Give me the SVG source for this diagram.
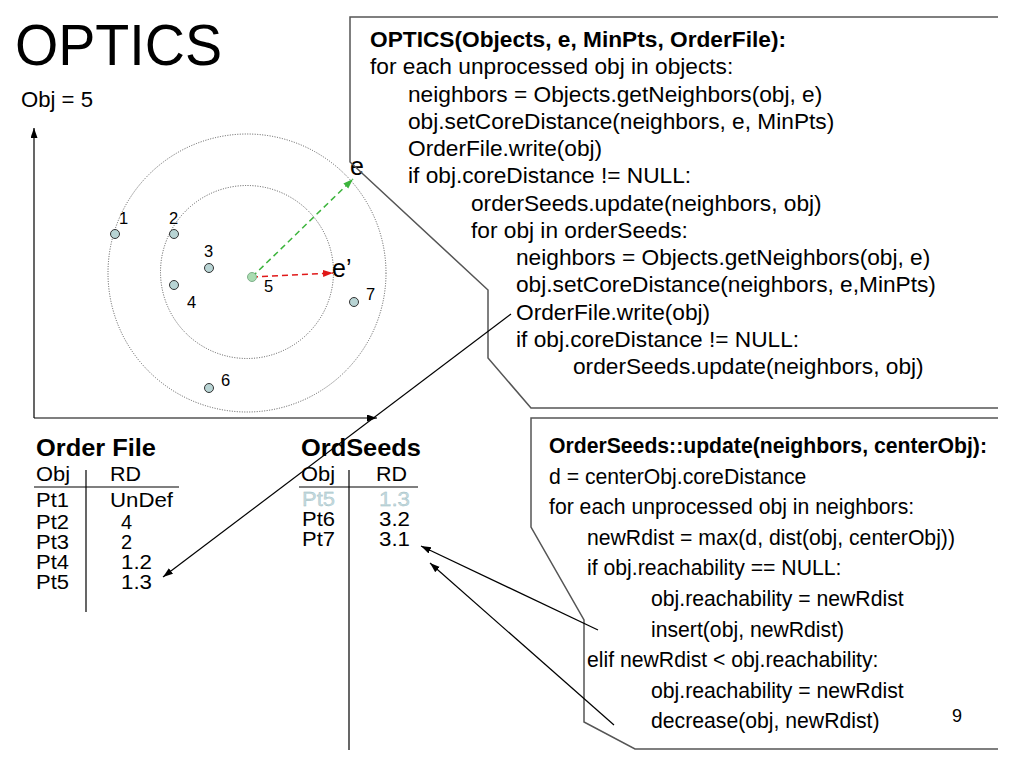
<svg xmlns="http://www.w3.org/2000/svg" width="1024" height="768" viewBox="0 0 1024 768">
<defs>
<style>
text{font-family:"Liberation Sans",Arial,sans-serif;fill:#000}
.code{font-size:22.7px}
.code2{font-size:21.2px}
.b{font-weight:bold}
.tbl{font-size:20px}
.hdr{font-size:23px;font-weight:bold}
.lbl{font-size:16.5px}
.box{fill:none;stroke:#555;stroke-width:1.5}
.ring{fill:none;stroke:#555;stroke-width:1;stroke-dasharray:1 1.5}
.pt{fill:#b8d4d4;stroke:#333;stroke-width:1}
.con{fill:none;stroke:#000;stroke-width:1.2}
.rule{stroke:#000;stroke-width:1.2}
.faded{fill:#c4dade;stroke:#98b8be;stroke-width:0.3}
</style>
<marker id="ah" markerWidth="11" markerHeight="8" refX="10" refY="3.5" orient="auto" markerUnits="userSpaceOnUse"><path d="M0,0 L10,3.5 L0,7 z" fill="#000"/></marker>
<marker id="ahg" markerWidth="11" markerHeight="8" refX="10" refY="3.5" orient="auto" markerUnits="userSpaceOnUse"><path d="M0,0 L10,3.5 L0,7 z" fill="#3cb43c"/></marker>
<marker id="ahr" markerWidth="11" markerHeight="8" refX="10" refY="3.5" orient="auto" markerUnits="userSpaceOnUse"><path d="M0,0 L10,3.5 L0,7 z" fill="#e01818"/></marker>
</defs>
<rect width="1024" height="768" fill="#fff"/>

<g id="title">
<text x="15" y="65" font-size="58" textLength="207" lengthAdjust="spacingAndGlyphs">OPTICS</text>
<text x="21" y="107" font-size="22" textLength="72" lengthAdjust="spacingAndGlyphs">Obj = 5</text>
</g>

<g id="plot">
<line class="con" x1="34" y1="418" x2="34" y2="128" marker-end="url(#ah)"/>
<line class="con" x1="34" y1="418" x2="377" y2="418" marker-end="url(#ah)"/>
<circle class="ring" cx="247" cy="273" r="139"/>
<circle class="ring" cx="247" cy="272" r="86.5"/>
<line x1="252" y1="277" x2="353" y2="179" stroke="#3cb43c" stroke-width="1.5" stroke-dasharray="6 4" marker-end="url(#ahg)"/>
<line x1="252" y1="277" x2="333" y2="273" stroke="#e01818" stroke-width="1.5" stroke-dasharray="6 4" marker-end="url(#ahr)"/>
<g id="p1"><circle class="pt" cx="115" cy="234" r="4.5"/><text class="lbl" x="119" y="224">1</text></g>
<g id="p2"><circle class="pt" cx="174" cy="234" r="4.5"/><text class="lbl" x="169" y="224">2</text></g>
<g id="p3"><circle class="pt" cx="209" cy="268" r="4.5"/><text class="lbl" x="204" y="257">3</text></g>
<g id="p4"><circle class="pt" cx="174" cy="285" r="4.5"/><text class="lbl" x="187" y="308">4</text></g>
<g id="p5"><circle cx="252" cy="277" r="4.5" fill="#a9dcb1" stroke="#7fb08a" stroke-width="1"/><text class="lbl" x="264" y="292">5</text></g>
<g id="p6"><circle class="pt" cx="209" cy="388" r="4.5"/><text class="lbl" x="221" y="386">6</text></g>
<g id="p7"><circle class="pt" cx="354" cy="302" r="4.5"/><text class="lbl" x="366" y="300">7</text></g>
<text x="350" y="175" font-size="25">e</text>
<text x="332" y="277" font-size="25">e’</text>
</g>

<g id="optics-box">
<path class="box" d="M998,17 H350 V162 L488,290 V358 L531,408 H998"/>
<text class="code b" x="370" y="47">OPTICS(Objects, e, MinPts, OrderFile):</text>
<text class="code" x="370" y="74.3">for each unprocessed obj in objects:</text>
<text class="code" x="408" y="101.5">neighbors = Objects.getNeighbors(obj, e)</text>
<text class="code" x="408" y="128.8">obj.setCoreDistance(neighbors, e, MinPts)</text>
<text class="code" x="408" y="156">OrderFile.write(obj)</text>
<text class="code" x="408" y="183.3">if obj.coreDistance != NULL:</text>
<text class="code" x="471" y="210.5">orderSeeds.update(neighbors, obj)</text>
<text class="code" x="471" y="237.8">for obj in orderSeeds:</text>
<text class="code" x="516" y="265">neighbors = Objects.getNeighbors(obj, e)</text>
<text class="code" x="516" y="292.3">obj.setCoreDistance(neighbors, e,MinPts)</text>
<text class="code" x="516" y="319.5">OrderFile.write(obj)</text>
<text class="code" x="516" y="346.8">if obj.coreDistance != NULL:</text>
<text class="code" x="573" y="374">orderSeeds.update(neighbors, obj)</text>
</g>

<g id="update-box">
<path class="box" d="M998,418 H531 V527 L584,620 V722 L635,749 H998"/>
<text class="code2 b" x="549" y="453">OrderSeeds::update(neighbors, centerObj):</text>
<text class="code2" x="549" y="483.6">d = centerObj.coreDistance</text>
<text class="code2" x="549" y="514.2">for each unprocessed obj in neighbors:</text>
<text class="code2" x="587" y="544.8">newRdist = max(d, dist(obj, centerObj))</text>
<text class="code2" x="587" y="575.4">if obj.reachability == NULL:</text>
<text class="code2" x="651" y="606">obj.reachability = newRdist</text>
<text class="code2" x="651" y="636.6">insert(obj, newRdist)</text>
<text class="code2" x="587" y="667.2">elif newRdist &lt; obj.reachability:</text>
<text class="code2" x="651" y="697.8">obj.reachability = newRdist</text>
<text class="code2" x="651" y="728.4">decrease(obj, newRdist)</text>
</g>

<g id="order-file">
<text class="hdr" x="36" y="456" textLength="120" lengthAdjust="spacingAndGlyphs">Order File</text>
<text class="tbl" x="36" y="481" textLength="34" lengthAdjust="spacingAndGlyphs">Obj</text>
<text class="tbl" x="110" y="481" textLength="31" lengthAdjust="spacingAndGlyphs">RD</text>
<line class="rule" x1="34" y1="487" x2="179" y2="487"/>
<line class="rule" x1="86" y1="470" x2="86" y2="612"/>
<text class="tbl" x="36" y="507" textLength="33" lengthAdjust="spacingAndGlyphs">Pt1</text><text class="tbl" x="110" y="507" textLength="63" lengthAdjust="spacingAndGlyphs">UnDef</text>
<text class="tbl" x="36" y="529" textLength="33" lengthAdjust="spacingAndGlyphs">Pt2</text><text class="tbl" x="121" y="529">4</text>
<text class="tbl" x="36" y="549" textLength="33" lengthAdjust="spacingAndGlyphs">Pt3</text><text class="tbl" x="121" y="549">2</text>
<text class="tbl" x="36" y="569" textLength="33" lengthAdjust="spacingAndGlyphs">Pt4</text><text class="tbl" x="121" y="569" textLength="31" lengthAdjust="spacingAndGlyphs">1.2</text>
<text class="tbl" x="36" y="589" textLength="33" lengthAdjust="spacingAndGlyphs">Pt5</text><text class="tbl" x="121" y="589" textLength="31" lengthAdjust="spacingAndGlyphs">1.3</text>
</g>

<g id="ordseeds">
<text class="hdr" x="301" y="456" textLength="120" lengthAdjust="spacingAndGlyphs">OrdSeeds</text>
<text class="tbl" x="301" y="481" textLength="34" lengthAdjust="spacingAndGlyphs">Obj</text>
<text class="tbl" x="376" y="481" textLength="31" lengthAdjust="spacingAndGlyphs">RD</text>
<line class="rule" x1="299" y1="487" x2="418" y2="487"/>
<line class="rule" x1="349" y1="470" x2="349" y2="750"/>
<text class="tbl faded" x="302" y="506" textLength="33" lengthAdjust="spacingAndGlyphs">Pt5</text><text class="tbl faded" x="379" y="506" textLength="31" lengthAdjust="spacingAndGlyphs">1.3</text>
<text class="tbl" x="302" y="526" textLength="33" lengthAdjust="spacingAndGlyphs">Pt6</text><text class="tbl" x="379" y="526" textLength="31" lengthAdjust="spacingAndGlyphs">3.2</text>
<text class="tbl" x="302" y="546" textLength="33" lengthAdjust="spacingAndGlyphs">Pt7</text><text class="tbl" x="379" y="546" textLength="31" lengthAdjust="spacingAndGlyphs">3.1</text>
</g>

<g id="connectors">
<line class="con" x1="511" y1="314" x2="163" y2="577" marker-end="url(#ah)"/>
<line class="con" x1="598" y1="630" x2="421" y2="546" marker-end="url(#ah)"/>
<line class="con" x1="614" y1="725" x2="430" y2="563" marker-end="url(#ah)"/>
</g>

<text x="952" y="722" font-size="18">9</text>
</svg>
